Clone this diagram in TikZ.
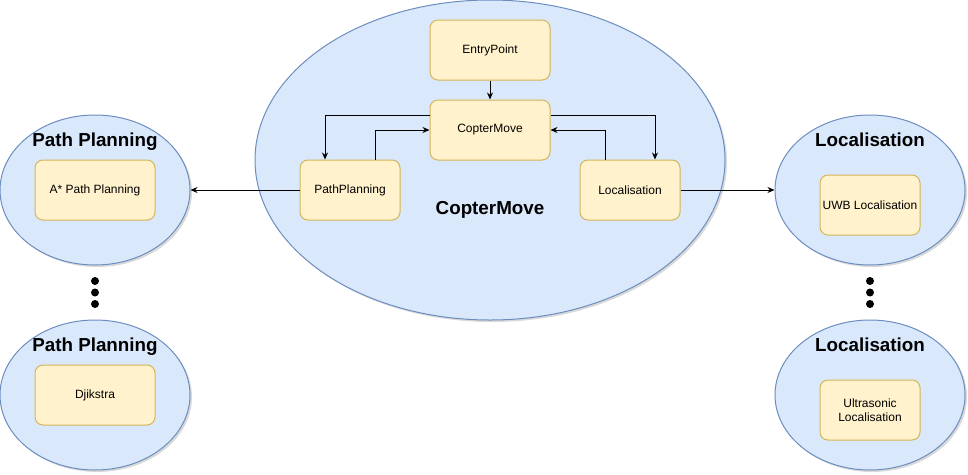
\documentclass[tikz,border=0pt]{standalone}
\usepackage{fontspec}
\setmainfont{Liberation Sans}
\usetikzlibrary{shapes.geometric,arrows.meta,shadows}
\definecolor{blobfill}{HTML}{DAE8FC}
\definecolor{blobline}{HTML}{6C8EBF}
\definecolor{boxfill}{HTML}{FFF2CC}
\definecolor{boxline}{HTML}{D6B656}
\tikzset{
  blob/.style={draw=blobline, fill=blobfill, ellipse, inner sep=0pt, line width=1pt,
    drop shadow={shadow xshift=2pt, shadow yshift=-2pt, opacity=0.3}},
  module/.style={draw=boxline, fill=boxfill, rounded corners=8pt, minimum width=100pt,
    minimum height=60pt, inner sep=0pt, align=center, line width=1pt,
    font=\fontsize{12}{14}\selectfont},
  title/.style={font=\bfseries\fontsize{18.8}{22}\selectfont},
  link/.style={-{Stealth[length=7pt,width=6pt]}, line width=1pt},
  dot/.style={circle, fill=black, minimum size=8pt, inner sep=0pt}
}
\begin{document}
\begin{tikzpicture}[x=1pt,y=-1pt]
  \useasboundingbox (0,0) rectangle (968,474);
  % main module
  \node[blob, minimum width=470pt, minimum height=320pt] (copter) at (490,160) {};
  \node[title] (coptertitle) at (490,210) {CopterMove};
  \node[module, minimum width=120pt] (entry) at (490,50) {EntryPoint};
  \node[module, minimum width=120pt] (move) at (490,130) {CopterMove};
  \node[module] (plan) at (350,190) {PathPlanning};
  \node[module] (loc) at (630,190) {Localisation};

  % path planning variants
  \node[blob, minimum width=190pt, minimum height=150pt] (planA) at (95,190) {};
  \node[title] (planAtitle) at (95,142) {Path Planning};
  \node[module, minimum width=120pt] (astar) at (95,190) {A* Path Planning};
  \node[dot] (pdot1) at (95,281) {};
  \node[dot] (pdot2) at (95,292.5) {};
  \node[dot] (pdot3) at (95,304) {};
  \node[blob, minimum width=190pt, minimum height=150pt] (planB) at (95,395) {};
  \node[title] (planBtitle) at (95,347) {Path Planning};
  \node[module, minimum width=120pt] (djikstra) at (95,395) {Djikstra};

  % localisation variants
  \node[blob, minimum width=190pt, minimum height=150pt] (locA) at (870,190) {};
  \node[title] (locAtitle) at (870,140) {Localisation};
  \node[module] (uwb) at (870,205) {UWB Localisation};
  \node[dot] (ldot1) at (870,281) {};
  \node[dot] (ldot2) at (870,292.5) {};
  \node[dot] (ldot3) at (870,304) {};
  \node[blob, minimum width=190pt, minimum height=150pt] (locB) at (870,395) {};
  \node[title] (locBtitle) at (870,345) {Localisation};
  \node[module] (sonic) at (870,410) {Ultrasonic\\Localisation};

  \draw[link] (entry) -- (move);
  \draw[link] ([yshift=15pt]move.west) -| ([xshift=-25pt]plan.north);
  \draw[link] ([xshift=25pt]plan.north) |- (move.west);
  \draw[link] ([yshift=15pt]move.east) -| ([xshift=25pt]loc.north);
  \draw[link] ([xshift=-25pt]loc.north) |- (move.east);
  \draw[link] (plan.west) -- (planA.east);
  \draw[link] (loc.east) -- (locA.west);
\end{tikzpicture}
\end{document}
